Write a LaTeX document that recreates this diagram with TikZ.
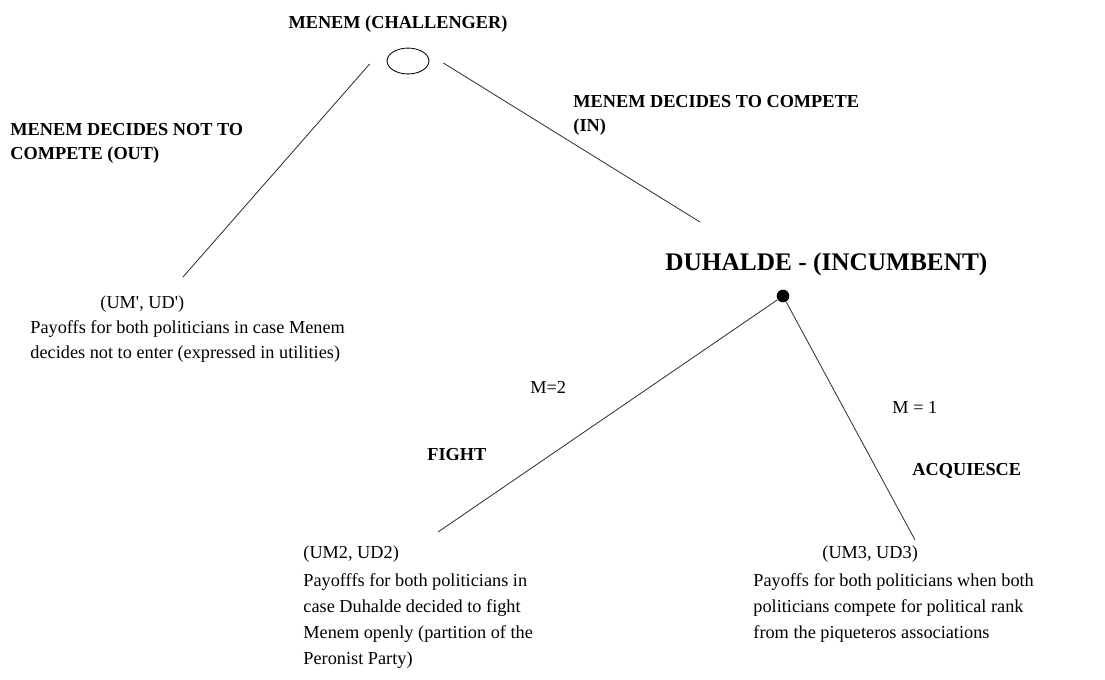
\documentclass[tikz,border=0pt]{standalone}
\usepackage{fontspec}
\setmainfont{Liberation Serif}
\usetikzlibrary{shapes.geometric}

\begin{document}
\begin{tikzpicture}[x=0.025cm, y=-0.025cm, line width=0.6pt,
        txt/.style={inner sep=0pt, anchor=base west, align=left, font=\fontsize{13}{17.7}\selectfont},
        lbl/.style={txt, font=\fontsize{13}{16.5}\selectfont\bfseries},
        branch/.style={draw=black!80}]

        \useasboundingbox (0,0) rectangle (1105,679);

        % decision nodes
        \node[draw, ellipse, minimum width=29.8pt, minimum height=18.4pt, inner sep=0pt] (menem) at (408,61) {};
        \node[circle, fill, minimum size=9pt, inner sep=0pt] (duhalde) at (783,296) {};

        % free ends of the branches
        \coordinate (outEnd) at (183,277);  % Menem stays out
        \coordinate (inEnd) at (700,222);   % Menem comes in
        \coordinate (fightEnd) at (438,532);  % Duhalde fights
        \coordinate (acqEnd) at (915,540);   % Duhalde acquiesces

        
        \draw[branch] ([shift={(-17,3)}]menem.west) -- (outEnd);
        \draw[branch] ([shift={(14,2)}]menem.east) -- (inEnd);
        \draw[branch] (duhalde) -- (fightEnd);
        \draw[branch] (duhalde) -- (acqEnd);

        
        \node[lbl, anchor=base] (challenger) at (398,28) {MENEM (CHALLENGER)};
        \node[lbl, font=\fontsize{18}{22}\selectfont\bfseries] (incumbent) at (665,270) {DUHALDE - (INCUMBENT)};

        % multi-line texts sit on the baseline of their last line
        \node[lbl] (outLbl) at (10,159) {MENEM DECIDES NOT TO\\COMPETE (OUT)};
        \node[lbl] (inLbl) at (573,131) {MENEM DECIDES TO COMPETE\\(IN)};

        \node[txt] (mTwo) at (530,393) {M=2};
        \node[txt] (mOne) at (892,413) {M = 1};
        \node[lbl] (fight) at (427,460) {FIGHT};
        \node[lbl] (acquiesce) at (912,475) {ACQUIESCE};

        
        \node[txt] (payOutUM) at (100,308) {(UM\textquotesingle, UD\textquotesingle)};
        \node[txt] (payOut) at (30,358) {Payoffs for both politicians in case Menem\\decides not to enter (expressed in utilities)};

        \node[txt] (payFightUM) at (303,558) {(UM2, UD2)};
        \node[txt, font=\fontsize{13}{18.4}\selectfont] (payFight) at (303,664) {Payofffs for both politicians in\\case Duhalde decided to fight\\Menem openly (partition of the\\Peronist Party)};

        \node[txt] (payAcqUM) at (822,558) {(UM3, UD3)};
        \node[txt, font=\fontsize{13}{18.4}\selectfont] (payAcq) at (753,638) {Payoffs for both politicians when both\\politicians compete for political rank\\from the piqueteros associations};

    \end{tikzpicture}
\end{document}
